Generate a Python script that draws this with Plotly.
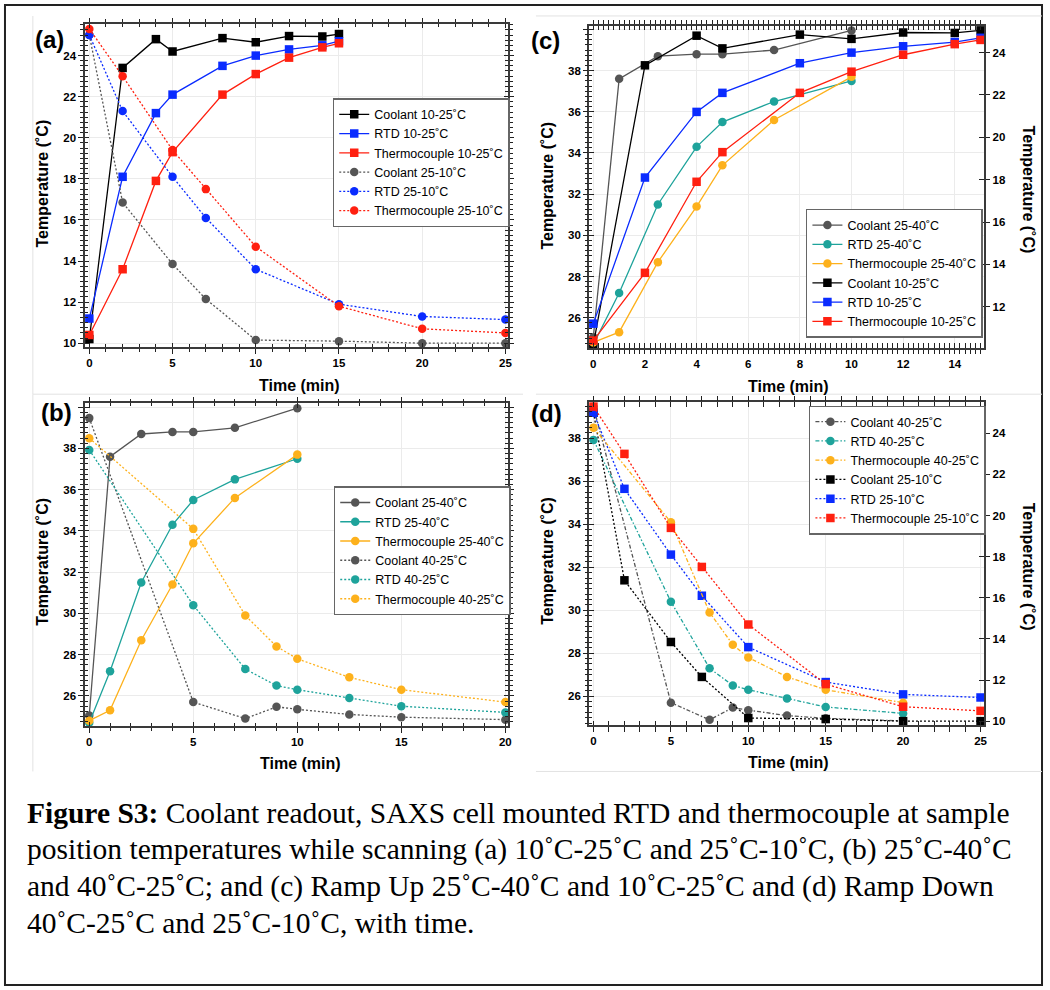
import plotly.graph_objects as go

W, H = 1050, 990

# ---------------- data ----------------
t_up_10_25 = [0, 2, 4, 5, 8, 10, 12, 14, 15]
coolant_10_25 = [10.2, 23.4, 24.8, 24.2, 24.85, 24.65, 24.95, 24.93, 25.05]
rtd_10_25 = [11.2, 18.1, 21.2, 22.1, 23.5, 24.0, 24.3, 24.5, 24.7]
tc_10_25 = [10.4, 13.6, 17.9, 19.3, 22.1, 23.1, 23.9, 24.4, 24.6]

t_down_25_10 = [0, 2, 5, 7, 10, 15, 20, 25]
coolant_25_10 = [25.0, 16.85, 13.85, 12.15, 10.15, 10.1, 10.0, 10.0]
rtd_25_10 = [25.0, 21.3, 18.1, 16.1, 13.6, 11.9, 11.3, 11.15]
tc_25_10 = [25.3, 23.0, 19.4, 17.5, 14.7, 11.8, 10.7, 10.5]

t_up_25_40 = [0, 1, 2.5, 4, 5, 7, 10]
coolant_25_40 = [25.05, 37.6, 38.7, 38.8, 38.8, 39.0, 39.95]
rtd_25_40 = [24.7, 27.2, 31.5, 34.3, 35.5, 36.5, 37.5]
tc_25_40 = [24.8, 25.3, 28.7, 31.4, 33.4, 35.6, 37.7]

t_down_40_25 = [0, 5, 7.5, 9, 10, 12.5, 15, 20]
coolant_40_25 = [39.47, 25.7, 24.9, 25.47, 25.35, 25.1, 24.97, 24.85]
rtd_40_25 = [37.93, 30.4, 27.3, 26.5, 26.3, 25.9, 25.5, 25.2]
tc_40_25 = [38.5, 34.1, 29.9, 28.4, 27.8, 26.9, 26.3, 25.7]

caption_lines = [
    "<b>Figure S3:</b> Coolant readout, SAXS cell mounted RTD and thermocouple at sample",
    "position temperatures while scanning (a) 10˚C-25˚C and 25˚C-10˚C, (b) 25˚C-40˚C",
    "and 40˚C-25˚C; and (c) Ramp Up 25˚C-40˚C and 10˚C-25˚C and (d) Ramp Down",
    "40˚C-25˚C and 25˚C-10˚C, with time.",
]

# ---------------- styling ----------------
BLACK = "#000000"
BLUE = "#0a2bff"
RED = "#ff2010"
GRAY = "#555555"
TEAL = "#1ea39b"
ORANGE = "#fdb11c"
SANS = "Liberation Sans"
DOT = "2px,2px"
DASHDOT = "4px,2px,1.5px,2px"


def px_x(p):
    return p / W


def px_y(p):
    return 1 - p / H


def trace(x, y, name, color, symbol, dash, xa, ya, legend):
    return go.Scatter(
        x=x, y=y, name=name, mode="lines+markers",
        line=dict(color=color, width=1.3, dash=dash),
        marker=dict(color=color, symbol=symbol, size=8.5, line=dict(width=0)),
        xaxis=xa, yaxis=ya, legend=legend, cliponaxis=False,
    )


fig = go.Figure()

# panel (a)  (second group drawn on the twin axes that carry the inner tick marks)
fig.add_trace(trace(t_up_10_25, coolant_10_25, "Coolant 10-25˚C", BLACK, "square", "solid", "x", "y", "legend"))
fig.add_trace(trace(t_up_10_25, rtd_10_25, "RTD 10-25˚C", BLUE, "square", "solid", "x", "y", "legend"))
fig.add_trace(trace(t_up_10_25, tc_10_25, "Thermocouple 10-25˚C", RED, "square", "solid", "x", "y", "legend"))
fig.add_trace(trace(t_down_25_10, coolant_25_10, "Coolant 25-10˚C", GRAY, "circle", DOT, "x5", "y7", "legend"))
fig.add_trace(trace(t_down_25_10, rtd_25_10, "RTD 25-10˚C", BLUE, "circle", DOT, "x5", "y7", "legend"))
fig.add_trace(trace(t_down_25_10, tc_25_10, "Thermocouple 25-10˚C", RED, "circle", DOT, "x5", "y7", "legend"))

# panel (b)
fig.add_trace(trace(t_up_25_40, coolant_25_40, "Coolant 25-40˚C", GRAY, "circle", "solid", "x2", "y2", "legend2"))
fig.add_trace(trace(t_up_25_40, rtd_25_40, "RTD 25-40˚C", TEAL, "circle", "solid", "x2", "y2", "legend2"))
fig.add_trace(trace(t_up_25_40, tc_25_40, "Thermocouple 25-40˚C", ORANGE, "circle", "solid", "x2", "y2", "legend2"))
fig.add_trace(trace(t_down_40_25, coolant_40_25, "Coolant 40-25˚C", GRAY, "circle", DOT, "x6", "y8", "legend2"))
fig.add_trace(trace(t_down_40_25, rtd_40_25, "RTD 40-25˚C", TEAL, "circle", DOT, "x6", "y8", "legend2"))
fig.add_trace(trace(t_down_40_25, tc_40_25, "Thermocouple 40-25˚C", ORANGE, "circle", DOT, "x6", "y8", "legend2"))

# panel (c)
fig.add_trace(trace(t_up_25_40, coolant_25_40, "Coolant 25-40˚C", GRAY, "circle", "solid", "x3", "y3", "legend3"))
fig.add_trace(trace(t_up_25_40, rtd_25_40, "RTD 25-40˚C", TEAL, "circle", "solid", "x3", "y3", "legend3"))
fig.add_trace(trace(t_up_25_40, tc_25_40, "Thermocouple 25-40˚C", ORANGE, "circle", "solid", "x7", "y9", "legend3"))
fig.add_trace(trace(t_up_10_25, coolant_10_25, "Coolant 10-25˚C", BLACK, "square", "solid", "x3", "y4", "legend3"))
fig.add_trace(trace(t_up_10_25, rtd_10_25, "RTD 10-25˚C", BLUE, "square", "solid", "x3", "y4", "legend3"))
fig.add_trace(trace(t_up_10_25, tc_10_25, "Thermocouple 10-25˚C", RED, "square", "solid", "x7", "y10", "legend3"))

# panel (d)
fig.add_trace(trace(t_down_40_25, coolant_40_25, "Coolant 40-25˚C", GRAY, "circle", DASHDOT, "x4", "y5", "legend4"))
fig.add_trace(trace(t_down_40_25, rtd_40_25, "RTD 40-25˚C", TEAL, "circle", DASHDOT, "x4", "y5", "legend4"))
fig.add_trace(trace(t_down_40_25, tc_40_25, "Thermocouple 40-25˚C", ORANGE, "circle", DASHDOT, "x8", "y11", "legend4"))
fig.add_trace(trace(t_down_25_10, coolant_25_10, "Coolant 25-10˚C", BLACK, "square", DOT, "x4", "y6", "legend4"))
fig.add_trace(trace(t_down_25_10, rtd_25_10, "RTD 25-10˚C", BLUE, "square", DOT, "x4", "y6", "legend4"))
fig.add_trace(trace(t_down_25_10, tc_25_10, "Thermocouple 25-10˚C", RED, "square", DOT, "x8", "y12", "legend4"))


def axis(rng, tick0, dtick, minor_dtick, domain=None, anchor=None, mirror="allticks",
         side=None, overlaying=None, main=True, grid=True, hide=None):
    d = dict(
        range=rng, tickmode="linear", tick0=tick0, dtick=dtick,
        ticks="outside" if main else "inside", ticklen=4.5, tickwidth=1.2, tickcolor="#222",
        showline=main, linecolor="#3a3a3a", linewidth=1.6, mirror=mirror,
        zeroline=False, showgrid=grid and main, gridcolor="#ebebeb", gridwidth=1,
        showticklabels=main,
        tickfont=dict(family=SANS, size=11.5, color="#000", weight="bold"),
        fixedrange=True,
    )
    if minor_dtick:
        d["minor"] = dict(ticks="outside" if main else "inside", ticklen=3, tickwidth=1,
                          tickcolor="#222", dtick=minor_dtick, tick0=0, showgrid=False)
    if hide:
        d["labelalias"] = {h: "" for h in hide}
    if domain is not None:
        d["domain"] = domain
    if anchor is not None:
        d["anchor"] = anchor
    if side is not None:
        d["side"] = side
    if overlaying is not None:
        d["overlaying"] = overlaying
    return d


# pixel frames of each panel
A = dict(x=[85, 510], y=[24, 348])
B = dict(x=[85, 510], y=[404.3, 727.7])
C = dict(x=[591.7, 987.7], y=[26, 348.7])
D = dict(x=[591.7, 987.7], y=[403.3, 726.7])


def dx(f):
    return [px_x(f["x"][0]), px_x(f["x"][1])]


def dy(f):
    return [px_y(f["y"][1]), px_y(f["y"][0])]


rx_a = [-0.28, 25.16]
ry_a = [9.8, 25.54]
rx_b = [-0.22, 20.13]
ry_b = [24.53, 40.18]
rx_c = [-0.15, 15.13]
ry_c = [24.53, 40.17]
ry_c2 = [10.05, 25.26]
rx_d = [-0.26, 25.22]
ry_d = [24.65, 39.67]
ry_d2 = [9.8, 25.5]

layout_axes = dict(
    xaxis=axis(rx_a, 0, 5, 1, domain=dx(A), anchor="y"),
    yaxis=axis(ry_a, 10, 2, 0.25, domain=dy(A), anchor="x"),
    xaxis2=axis(rx_b, 0, 5, 1, domain=dx(B), anchor="y2"),
    yaxis2=axis(ry_b, 26, 2, 0.25, domain=dy(B), anchor="x2", hide=["40"]),
    xaxis3=axis(rx_c, 0, 2, 0.2, domain=dx(C), anchor="y3"),
    yaxis3=axis(ry_c, 26, 2, 0.25, domain=dy(C), anchor="x3", mirror=False, hide=["40"]),
    yaxis4=axis(ry_c2, 12, 2, None, anchor="x3", side="right", overlaying="y3", mirror=False, grid=False),
    xaxis4=axis(rx_d, 0, 5, 1, domain=dx(D), anchor="y5"),
    yaxis5=axis(ry_d, 26, 2, 0.25, domain=dy(D), anchor="x4", mirror=False),
    yaxis6=axis(ry_d2, 10, 2, None, anchor="x4", side="right", overlaying="y5", mirror=False, grid=False),
    # twin axes carrying the inner half of the crossing tick marks
    xaxis5=axis(rx_a, 0, 5, 1, anchor="y", overlaying="x", main=False),
    yaxis7=axis(ry_a, 10, 2, 0.25, anchor="x", overlaying="y", main=False),
    xaxis6=axis(rx_b, 0, 5, 1, anchor="y2", overlaying="x2", main=False),
    yaxis8=axis(ry_b, 26, 2, 0.25, anchor="x2", overlaying="y2", main=False),
    xaxis7=axis(rx_c, 0, 2, 0.2, anchor="y3", overlaying="x3", main=False),
    yaxis9=axis(ry_c, 26, 2, 0.25, anchor="x3", overlaying="y3", main=False, mirror=False),
    yaxis10=axis(ry_c2, 12, 2, None, anchor="x3", overlaying="y3", side="right", main=False, mirror=False),
    xaxis8=axis(rx_d, 0, 5, 1, anchor="y5", overlaying="x4", main=False),
    yaxis11=axis(ry_d, 26, 2, 0.25, anchor="x4", overlaying="y5", main=False, mirror=False),
    yaxis12=axis(ry_d2, 10, 2, None, anchor="x4", overlaying="y5", side="right", main=False, mirror=False),
)


def legend_at(left_px, mid_px):
    return dict(
        x=px_x(left_px), y=px_y(mid_px), xanchor="left", yanchor="middle",
        bgcolor="white", bordercolor="#666", borderwidth=1.5,
        font=dict(family=SANS, size=12.5, color="#000"),
        itemwidth=30, tracegroupgap=0, traceorder="normal",
    )


annotations = []


def add_text(text, xp, yp, size, angle=0, bold=True, family=SANS, xanchor="center", yanchor="middle"):
    annotations.append(dict(
        text=f"<b>{text}</b>" if bold else text, x=px_x(xp), y=px_y(yp), xref="paper", yref="paper",
        showarrow=False, textangle=angle, xanchor=xanchor, yanchor=yanchor,
        font=dict(family=family, size=size, color="#000"),
    ))


# panel letters
add_text("(a)", 50, 40, 24)
add_text("(c)", 548, 41, 24)
add_text("(b)", 57, 413, 24)
add_text("(d)", 549, 414, 24)

# axis titles
YT = "Temperature (˚C)"
XT = "Time (min)"
add_text(YT, 43, 184, 16, -90)
add_text(YT, 43, 563, 16, -90)
add_text(YT, 550, 186, 16, -90)
add_text(YT, 1032, 190, 16, 90)
add_text(YT, 550, 562, 16, -90)
add_text(YT, 1032, 568, 16, 90)
add_text(XT, 301, 386, 16)
add_text(XT, 792, 387, 16)
add_text(XT, 302, 765, 16)
add_text(XT, 792, 764, 16)

# caption
for i, line in enumerate(caption_lines):
    annotations.append(dict(
        text=line, x=px_x(25), y=px_y(815 + i * 36.7), xref="paper", yref="paper",
        showarrow=False, xanchor="left", yanchor="middle",
        font=dict(family="Liberation Serif", size=29.5, color="#000"),
    ))

FAINT = "#e2e2e2"


def pline(x0, y0, x1, y1, color=FAINT, width=1):
    return dict(type="line", xref="paper", yref="paper", x0=px_x(x0), x1=px_x(x1),
                y0=px_y(y0), y1=px_y(y1), line=dict(color=color, width=width), layer="below")


shapes = [
    dict(type="rect", xref="paper", yref="paper", x0=px_x(5), x1=px_x(1046), y0=px_y(987), y1=px_y(5),
         line=dict(color="#222", width=2), fillcolor="rgba(0,0,0,0)", layer="below"),
    # faint edges of the pasted panel images
    pline(33, 16, 33, 395), pline(33, 395, 525, 395),
    pline(538, 16, 1046, 16), pline(538, 395, 1046, 395),
    pline(33, 395, 33, 773), pline(538, 773, 1046, 773),
]

fig.update_layout(
    width=W, height=H, autosize=False,
    margin=dict(l=0, r=0, t=0, b=0),
    paper_bgcolor="white", plot_bgcolor="white",
    legend=legend_at(334, 163),
    legend2=legend_at(335, 552),
    legend3=legend_at(809, 274),
    legend4=legend_at(812, 471),
    annotations=annotations,
    shapes=shapes,
    **layout_axes,
)

fig.write_html("out.html")
